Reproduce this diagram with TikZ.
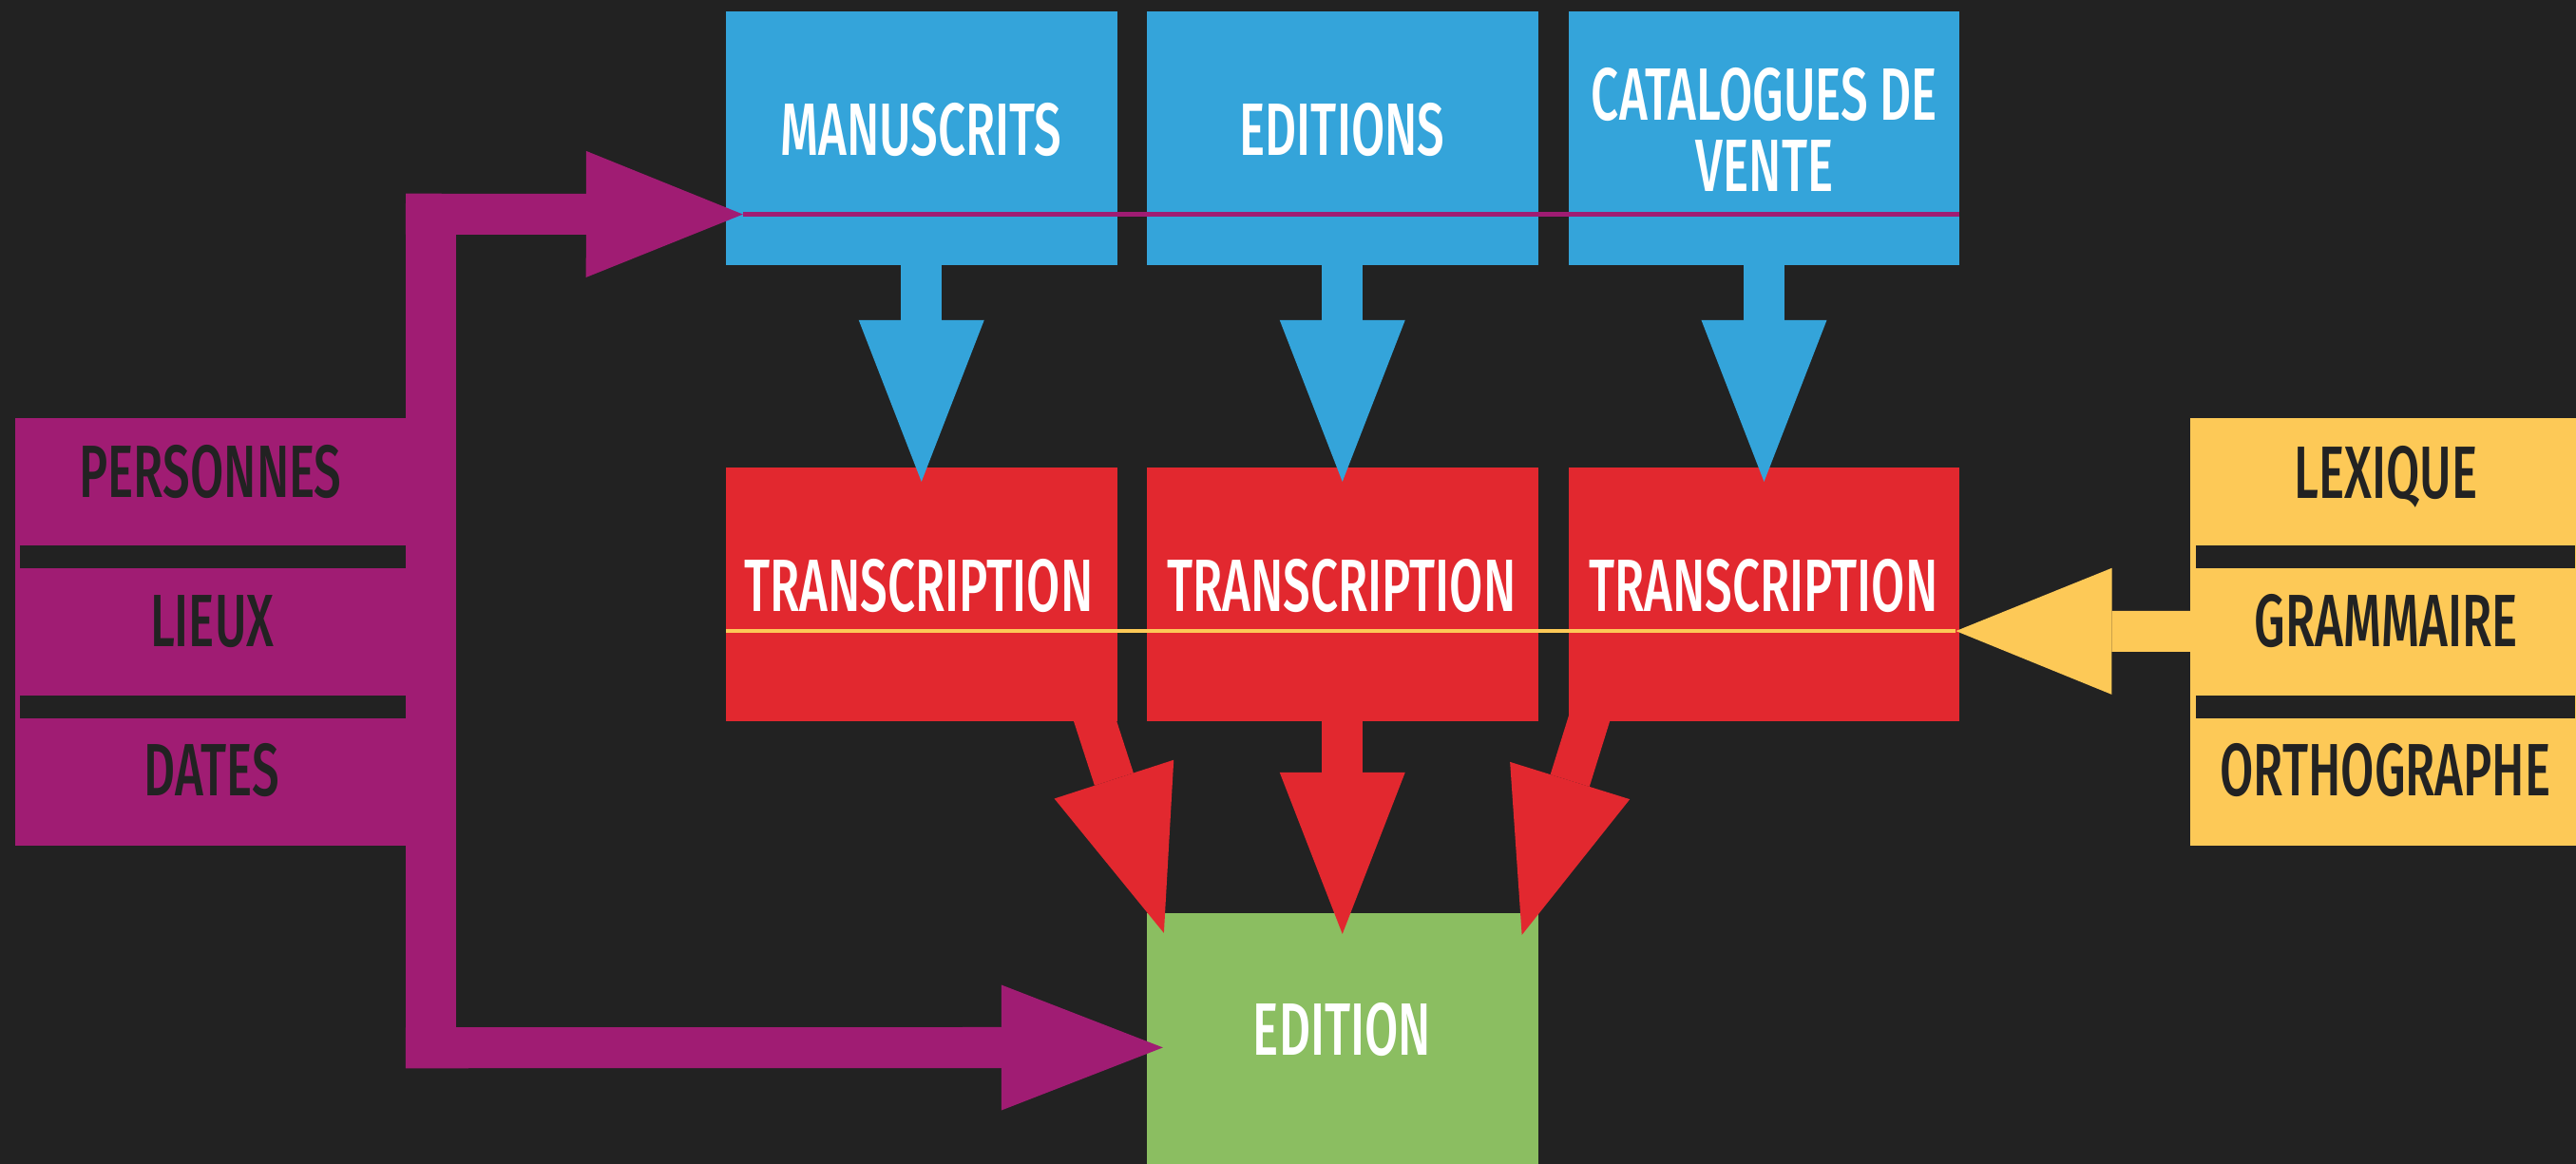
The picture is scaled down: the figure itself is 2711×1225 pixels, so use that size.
\documentclass[tikz,border=0pt]{standalone}
\usepackage{fontspec}
\usetikzlibrary{arrows.meta,calc}
\newfontfamily\dinf{Fira Sans Medium}[FakeStretch=0.655]
\definecolor{bgc}{HTML}{222222}
\definecolor{cblue}{HTML}{34A4DA}
\definecolor{cred}{HTML}{E2282F}
\definecolor{cgreen}{HTML}{8BBE61}
\definecolor{cpurple}{HTML}{A01C73}
\definecolor{cyellow}{HTML}{FDC957}
\tikzset{
  box/.style={rectangle, inner sep=0pt, outer sep=0pt, draw=none},
  bluebox/.style={box, fill=cblue, minimum width=4.115cm, minimum height=2.67cm},
  redbox/.style={box, fill=cred, minimum width=4.115cm, minimum height=2.67cm},
  sepbar/.style={box, fill=bgc, minimum height=0.24cm},
  lbl/.style={inner sep=0pt, outer sep=0pt, anchor=base,
    font=\dinf\fontsize{22.2pt}{21.2pt}\selectfont},
  wlbl/.style={lbl, text=white},
  dlbl/.style={lbl, text=bgc},
  blockarrow/.style={line width=0.43cm,
    -{Triangle[length=1.7cm, width=1.32cm, line width=0pt]}},
  thinline/.style={line width=0.05cm}
}
\begin{document}
\begin{tikzpicture}[x=0.01cm, y=-0.01cm]
\fill[bgc] (0,0) rectangle (2711,1225);
\useasboundingbox (0,0) rectangle (2711,1225);

% blue source boxes
\node[bluebox] (man) at (969.75,145.5) {};
\node[bluebox] (edi) at (1412.75,145.5) {};
\node[bluebox] (cat) at (1856.5,145.5) {};
% red transcription boxes
\node[redbox] (tr1) at (969.75,625.5) {};
\node[redbox] (tr2) at (1412.75,625.5) {};
\node[redbox] (tr3) at (1856.5,625.5) {};
% green edition box
\node[box, fill=cgreen, minimum width=4.115cm, minimum height=2.69cm] (ed) at (1412.75,1095.5) {};

% purple index block
\node[box, fill=cpurple, minimum width=4.11cm, minimum height=4.5cm] (pbox) at (221.5,665) {};
\node[box, fill=cpurple, minimum width=0.53cm, minimum height=9.2cm] (pbar) at (453.5,664) {};
\node[sepbar, minimum width=4.06cm] (ps1) at (224,586) {};
\node[sepbar, minimum width=4.06cm] (ps2) at (224,744) {};

% yellow language block
\node[box, fill=cyellow, minimum width=4.06cm, minimum height=4.5cm] (ybox) at (2508,665) {};
\node[sepbar, minimum width=3.99cm] (ys1) at (2510.5,586) {};
\node[sepbar, minimum width=3.99cm] (ys2) at (2510.5,744) {};

% blue arrows
\draw[blockarrow, cblue] (man.south) -- ($(tr1.north)+(0,15)$);
\draw[blockarrow, cblue] (edi.south) -- ($(tr2.north)+(0,15)$);
\draw[blockarrow, cblue] (cat.south) -- ($(tr3.north)+(0,15)$);

% red arrows
\draw[blockarrow, cred] (tr2.south) -- ($(ed.north)+(0,22)$);
\draw[blockarrow, cred, shorten <=-0.3cm] ($(tr1.south east)+(-23,0)$) -- ($(ed.north west)+(18,21)$);
\draw[blockarrow, cred, shorten <=-0.3cm] ($(tr3.south west)+(21,0)$) -- ($(ed.north east)+(-17,23)$);

% purple arrows
\coordinate (ptip) at ($(man.south west)+(18,-53.5)$);
\draw[blockarrow, cpurple, -{Triangle[length=1.65cm, width=1.33cm, line width=0pt]}]
  ($(pbar.north west)+(0,21.5)$) -- (ptip);
\draw[blockarrow, cpurple] ($(pbar.south west)+(0,-21.5)$) -- ($(ed.north west)+(17,141.5)$);
\draw[thinline, cpurple] (ptip) -- (cat.east |- ptip);

% yellow arrow
\coordinate (ytip) at ($(tr3.south east)+(-4,-95)$);
\draw[blockarrow, cyellow, -{Triangle[length=1.64cm, width=1.33cm, line width=0pt]}]
  ($(ybox.west)+(20,-0.5)$) -- (ytip);
\draw[thinline, cyellow, line width=0.045cm] (ytip) -- (tr1.west |- ytip);

% labels
\node[wlbl] (manT) at (969.5,164) {MANUSCRITS};
\node[wlbl] (ediT) at (1412.5,164) {EDITIONS};
\node[wlbl, anchor=center, align=center] (catT) at (1857,136.6) {CATALOGUES DE\\VENTE};
\node[wlbl] (tr1T) at (967,644) {TRANSCRIPTION};
\node[wlbl] (tr2T) at (1412,644) {TRANSCRIPTION};
\node[wlbl] (tr3T) at (1856,644) {TRANSCRIPTION};
\node[wlbl] (edT) at (1412.5,1110) {EDITION};
\node[dlbl] (persT) at (221.5,524) {PERSONNES};
\node[dlbl] (lieuT) at (223,681) {LIEUX};
\node[dlbl] (dateT) at (222.5,838) {DATES};
\node[dlbl] (lexT) at (2511,524.5) {LEXIQUE};
\node[dlbl] (gramT) at (2511,681) {GRAMMAIRE};
\node[dlbl] (orthT) at (2510.5,838) {ORTHOGRAPHE};
\end{tikzpicture}
\end{document}
